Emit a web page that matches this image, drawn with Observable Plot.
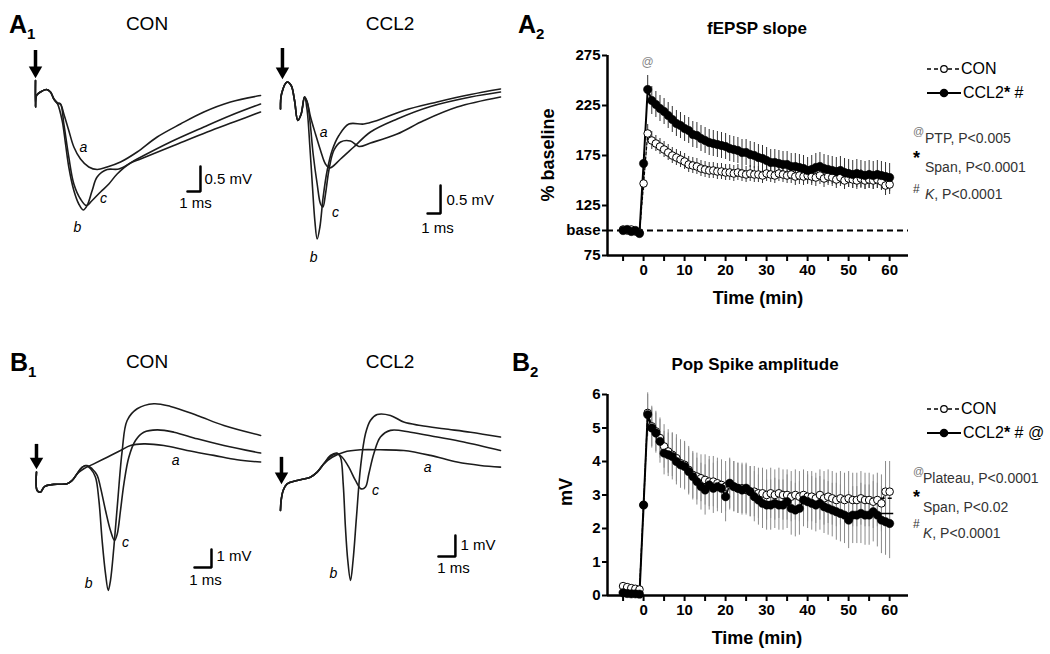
<!DOCTYPE html>
<html><head><meta charset="utf-8">
<script src="https://cdn.jsdelivr.net/npm/d3@7"></script>
<script src="https://cdn.jsdelivr.net/npm/@observablehq/plot@0.6"></script>
<style>
body{margin:0;background:#fff;font-family:"Liberation Sans",Arial,Helvetica,sans-serif;color:#000;}
#fig{position:relative;width:1050px;height:654px;overflow:hidden;background:#fff;}
#fig sub{font-size:15px;vertical-align:-6px;}
</style></head><body><div id="fig"></div>
<script>
// ---------------- DATA ----------------
// A1 traces (time ms, voltage mV), CON
const a1ConStart = [[0,0.16],[0,-0.37],[0.08,-0.14],[0.38,-0.07],[0.85,-0.02],[1.15,-0.07],[1.41,-0.21],[1.67,-0.29],[1.92,-0.31]];
const a1ConA = [[2.18,-0.51],[2.56,-0.84],[2.95,-1.17],[3.46,-1.41],[4.10,-1.57],[4.74,-1.62],[5.51,-1.57],[6.54,-1.47],[7.82,-1.27],[9.36,-0.97],[11.15,-0.71],[12.95,-0.47],[15.0,-0.27],[17.31,-0.14]];
const a1ConB = [[2.05,-0.64],[2.31,-1.11],[2.56,-1.57],[2.95,-2.04],[3.33,-2.31],[3.67,-2.43],[3.97,-2.34],[4.36,-2.04],[4.74,-1.77],[5.51,-1.62],[6.41,-1.61],[7.82,-1.41],[10.38,-1.07],[12.95,-0.77],[15.0,-0.54],[17.31,-0.31]];
const a1ConC = [[2.18,-0.71],[2.56,-1.37],[2.95,-1.91],[3.46,-2.21],[3.92,-2.34],[4.36,-2.24],[5.0,-2.07],[5.64,-1.91],[6.28,-1.71],[7.31,-1.49],[8.08,-1.41],[10.64,-1.14],[13.21,-0.87],[15.26,-0.67],[17.31,-0.47]];
// A1 traces, CCL2
const a1CclStart = [[0,-0.53],[0.08,-0.23],[0.51,0.01],[0.82,-0.06],[1.08,-0.36],[1.33,-0.76],[1.59,-0.63],[1.85,-0.29]];
const a1CclA = [[2.05,-0.39],[2.31,-0.69],[2.69,-1.03],[3.08,-1.36],[3.46,-1.63],[3.79,-1.71],[4.62,-1.53],[5.64,-1.29],[6.92,-0.99],[8.97,-0.73],[11.54,-0.48],[14.62,-0.29],[16.92,-0.19]];
const a1CclB = [[2.05,-0.56],[2.26,-1.29],[2.46,-2.09],[2.64,-2.76],[2.82,-3.13],[3.03,-2.89],[3.28,-2.29],[3.59,-1.76],[3.97,-1.36],[4.49,-1.06],[5.26,-0.83],[6.41,-0.83],[7.44,-0.76],[9.49,-0.56],[12.05,-0.39],[14.62,-0.24],[16.92,-0.13]];
const a1CclC = [[2.05,-0.39],[2.26,-0.76],[2.51,-1.43],[2.82,-2.03],[3.08,-2.43],[3.26,-2.49],[3.46,-2.23],[3.72,-1.76],[4.10,-1.36],[4.62,-1.19],[5.38,-1.17],[6.03,-1.28],[6.92,-1.21],[8.97,-1.03],[11.03,-0.76],[13.59,-0.49],[16.92,-0.29]];
// B1 traces, CON
const b1ConStart = [[0,0.74],[0.04,-0.28],[0.24,-0.37],[0.47,-0.06],[1.02,0.06],[1.80,0.09],[2.10,0.28],[2.39,0.65]];
const b1ConA = [[2.78,0.93],[3.37,1.20],[4.16,1.57],[4.94,1.94],[5.53,2.22],[6.31,2.31],[7.49,2.22],[8.86,1.94],[10.43,1.67],[11.8,1.43],[13.18,1.30]];
const b1ConB = [[2.59,0.93],[2.88,1.11],[3.18,0.93],[3.47,0.46],[3.67,-0.83],[3.86,-3.06],[4.06,-4.91],[4.22,-5.83],[4.35,-5.28],[4.55,-3.43],[4.78,-0.83],[5.04,1.94],[5.33,3.61],[5.92,4.26],[6.9,4.54],[7.88,4.39],[9.45,3.89],[11.02,3.33],[13.18,2.78]];
const b1ConC = [[2.69,1.02],[2.98,1.11],[3.27,0.93],[3.57,0.56],[3.76,-0.09],[4.06,-1.39],[4.35,-2.5],[4.59,-3.06],[4.75,-2.69],[4.94,-1.39],[5.14,0.09],[5.43,1.57],[5.82,2.5],[6.31,2.96],[7.1,3.09],[8.08,2.96],[9.45,2.59],[11.02,2.22],[13.18,1.80]];
// B1 traces, CCL2
const b1CclStart = [[0,-1.39],[0.04,-0.83],[0.16,-0.28],[0.39,0.09],[0.98,0.28],[1.76,0.46],[2.16,0.74],[2.55,1.20]];
const b1CclA = [[3.04,1.57],[3.73,1.85],[4.71,1.98],[5.88,1.98],[7.25,1.94],[8.82,1.67],[10.39,1.30],[11.76,1.11],[12.94,1.02]];
const b1CclB = [[2.94,1.67],[3.33,1.80],[3.53,1.57],[3.69,0.09],[3.82,-2.31],[3.96,-4.17],[4.12,-5.28],[4.27,-4.17],[4.47,-1.76],[4.71,1.02],[5.0,2.87],[5.29,3.61],[5.69,3.94],[6.47,3.89],[7.25,3.52],[8.24,3.33],[9.61,3.15],[11.18,2.96],[12.94,2.69]];
const b1CclC = [[2.94,1.61],[3.33,1.76],[3.63,1.57],[4.02,1.02],[4.41,0.28],[4.75,-0.19],[5.0,-0.09],[5.2,0.65],[5.49,1.76],[5.88,2.69],[6.47,3.06],[7.65,2.96],[9.22,2.69],[10.78,2.41],[12.94,1.94]];

// Time course (min)
const minutes = d3.range(-5, 61);
const slopeCON = [101,100,101,99,98,147,
 197,190,187,184,181,178,175,173,171,169,
 166,165,164,162,161,160,160,159,159,158,
 158,157,158,157,156,157,156,156,155,157,
 156,155,157,156,155,156,154,155,154,155,
 154,153,155,152,154,153,151,153,150,152,
 151,150,152,150,151,150,151,149,145,146];
const slopeCCL2 = [100,101,99,100,97,167,
 241,230,226,222,219,215,211,207,205,202,
 200,196,195,192,190,188,187,186,185,184,
 182,181,180,178,178,176,175,173,172,170,
 168,168,167,166,166,164,164,163,162,160,
 161,163,164,162,161,160,159,160,158,157,
 156,157,156,155,156,155,156,155,154,153];
const slopeCONErr = [3,3,3,3,3,7,
 9,9,8,8,8,8,8,8,8,8,
 8,8,8,8,8,8,8,8,8,8,
 8,8,8,8,8,8,8,8,8,8,
 8,8,8,8,8,9,9,9,9,9,
 9,9,9,9,9,9,9,9,9,9,
 9,9,9,9,9,9,9,9,10,10];
const slopeCCL2Err = [3,3,3,3,3,9,
 14,14,13,13,13,13,13,13,13,13,
 13,13,13,13,13,13,13,13,13,13,
 13,13,13,13,13,13,13,13,13,13,
 13,13,13,13,13,13,13,13,13,13,
 14,14,14,14,14,14,14,14,14,14,
 14,14,14,14,14,14,14,14,14,14];
const popCON = [0.28,0.25,0.22,0.2,0.18,2.7,
 5.45,5.05,4.9,4.7,4.45,4.3,4.2,4.1,3.95,3.9,
 3.75,3.6,3.55,3.5,3.45,3.4,3.4,3.35,3.3,3.25,
 3.3,3.25,3.2,3.2,3.15,3.1,3.1,3.05,3.05,3.0,
 3.05,3.0,3.05,3.0,3.0,2.95,3.0,2.95,3.0,2.95,
 2.95,2.9,3.0,2.9,2.95,2.9,2.85,2.9,2.85,2.9,
 2.85,2.85,2.9,2.85,2.85,2.8,2.85,2.75,3.1,3.1];
const popCCL2 = [0.08,0.06,0.05,0.05,0.04,2.7,
 5.4,5.0,4.85,4.6,4.25,4.2,4.15,4.0,3.9,3.85,
 3.7,3.55,3.4,3.25,3.15,3.3,3.2,3.25,3.2,2.95,
 3.35,3.25,3.2,3.15,3.2,3.1,2.95,2.85,2.75,2.7,
 2.7,2.75,2.7,2.7,2.8,2.6,2.55,2.6,2.85,2.8,
 2.75,2.7,2.75,2.65,2.6,2.55,2.5,2.45,2.4,2.25,
 2.4,2.4,2.45,2.4,2.4,2.5,2.4,2.25,2.2,2.15];
const popCONErr = [0.06,0.06,0.06,0.06,0.06,0.4,
 0.55,0.6,0.6,0.6,0.65,0.65,0.65,0.7,0.7,0.7,
 0.7,0.7,0.7,0.7,0.75,0.75,0.75,0.75,0.75,0.75,
 0.75,0.75,0.75,0.75,0.75,0.75,0.75,0.75,0.75,0.75,
 0.75,0.75,0.75,0.75,0.75,0.75,0.75,0.75,0.75,0.75,
 0.75,0.75,0.75,0.8,0.8,0.8,0.8,0.8,0.8,0.8,
 0.8,0.8,0.8,0.8,0.8,0.8,0.8,0.85,0.9,0.9];
const popCCL2Err = [0.03,0.03,0.03,0.03,0.03,0.4,
 0.65,0.6,0.6,0.65,0.65,0.65,0.7,0.7,0.7,0.7,
 0.7,0.7,0.7,0.7,0.75,0.75,0.75,0.75,0.75,0.75,
 0.75,0.75,0.75,0.75,0.75,0.75,0.75,0.75,0.75,0.75,
 0.75,0.75,0.75,0.75,0.8,0.8,0.8,0.8,0.8,0.8,
 0.8,0.8,0.8,0.8,0.8,0.8,0.85,0.85,0.85,0.85,
 0.85,0.85,0.9,0.9,0.9,0.9,0.95,1.0,1.0,1.05];
const popPlateau = [{group:"CON", v:2.9, from:46, to:61}, {group:"CCL2", v:2.45, from:48, to:61}];
const ptpMark = [{t:1, v:268, s:"@"}];

const timeMajorTicks = [0,10,20,30,40,50,60];
const timeMinorTicks = [-5,5,15,25,35,45,55];
const slopeTicks = [75,100,125,175,225,275];
const slopeBase = 100;
const popTicks = [0,1,2,3,4,5,6];

// ---------------- HELPERS ----------------
const FONT = '"Liberation Sans", Arial, Helvetica, sans-serif';
const fig = document.getElementById("fig");
function put(html, x, y, css, tf) {
  const d = document.createElement("div");
  d.innerHTML = html;
  d.style.cssText = `position:absolute;left:${x}px;top:${y}px;white-space:nowrap;line-height:1;transform:${tf};${css||""}`;
  fig.appendChild(d);
}
const ctr = (h, x, y, css) => put(h, x, y, css, "translate(-50%,-50%)");
const lft = (h, x, y, css) => put(h, x, y, css, "translate(0,-50%)");
const rot = (h, x, y, css) => put(h, x, y, css, "translate(-50%,-50%) rotate(-90deg)");
function placeSvg(svg, left, top) {
  svg.style.position = "absolute"; svg.style.left = left + "px"; svg.style.top = top + "px";
  fig.appendChild(svg);
}

function tracePanel(p) {
  const X = d => d[0], Y = d => d[1];
  const marks = p.traces.map(tr => Plot.line(tr, {x: X, y: Y, curve: "catmull-rom", stroke: "#1c1c1c", strokeWidth: 1.6, strokeLinejoin: "round"}));
  marks.push(Plot.ruleX([p.arrow], {x: "t", y1: "top", y2: "tip", stroke: "black", strokeWidth: 3.5, insetBottom: 9}));
  marks.push(Plot.dot([p.arrow], {x: "t", y: "tip", dy: -7, symbol: "triangle", rotate: 180, r: 5, fill: "black"}));
  const b = p.bar;
  marks.push(Plot.line([[b.t - b.dt, b.v], [b.t, b.v], [b.t, b.v + b.dv]], {x: X, y: Y, stroke: "black", strokeWidth: 2.5, strokeLinejoin: "miter"}));
  marks.push(Plot.text(p.letters, {x: "t", y: "v", text: "s", fontStyle: "italic", fontSize: 14}));
  marks.push(Plot.text([p.barV], {x: "t", y: "v", text: "s", fontSize: 15, textAnchor: "start"}));
  marks.push(Plot.text([p.barT], {x: "t", y: "v", text: "s", fontSize: 15, textAnchor: "middle"}));
  const svg = Plot.plot({
    width: p.width, height: p.height, margin: 0, axis: null,
    x: {domain: p.xd}, y: {domain: p.yd},
    style: {fontFamily: FONT, overflow: "visible", background: "transparent", color: "black"},
    marks
  });
  placeSvg(svg, p.left, p.top);
}

function timeChart(c) {
  const rows = c.time.map((t, i) => ({t, con: c.con[i], ccl: c.ccl[i], ce: c.conErr[i], ke: c.cclErr[i]}));
  const [x0] = c.xd, [y0] = c.yd;
  const marks = [];
  if (c.base != null) marks.push(Plot.ruleY([c.base], {stroke: "black", strokeWidth: 2, strokeDasharray: "6,4"}));
  marks.push(
    Plot.ruleX(rows, {x: "t", y1: d => d.con - d.ce, y2: d => d.con + d.ce, stroke: c.errColor, strokeWidth: 1}),
    Plot.ruleX(rows, {x: "t", y1: d => d.ccl - d.ke, y2: d => d.ccl + d.ke, stroke: c.errColor, strokeWidth: 1})
  );
  if (c.plateau) {
    marks.push(Plot.ruleY(c.plateau.filter(d => d.group === "CON"), {y: "v", x1: "from", x2: "to", stroke: "black", strokeWidth: 1.5, strokeDasharray: "4,3"}));
    marks.push(Plot.ruleY(c.plateau.filter(d => d.group === "CCL2"), {y: "v", x1: "from", x2: "to", stroke: "black", strokeWidth: 1.5}));
  }
  marks.push(
    Plot.line(rows, {x: "t", y: "con", stroke: "black", strokeWidth: 1.3, strokeDasharray: "3,2"}),
    Plot.line(rows, {x: "t", y: "ccl", stroke: "black", strokeWidth: 2}),
    Plot.dot(rows, {x: "t", y: "con", r: 3.8, fill: "white", stroke: "black", strokeWidth: 1}),
    Plot.dot(rows, {x: "t", y: "ccl", r: 4.2, fill: "black", stroke: "black", strokeWidth: 0.5}),
    Plot.ruleX([x0], {stroke: "black", strokeWidth: 2.5}),
    Plot.ruleY([y0], {stroke: "black", strokeWidth: 2.5}),
    Plot.axisY({ticks: c.yTicks, tickFormat: c.yFormat, tickSize: 5, tickPadding: 2, fontSize: 15, fontWeight: "bold", strokeWidth: 2, label: null}),
    Plot.axisX({ticks: timeMajorTicks, tickFormat: d => d, tickSize: 6, tickPadding: 3, fontSize: 15, fontWeight: "bold", strokeWidth: 2, label: null}),
    Plot.axisX({ticks: timeMinorTicks, tickFormat: () => "", tickSize: 6, strokeWidth: 2, label: null})
  );
  if (c.extra) marks.push(...c.extra);
  const svg = Plot.plot({
    width: c.width, height: c.height,
    marginLeft: c.ml, marginRight: c.mr, marginTop: c.mt, marginBottom: c.mb,
    x: {domain: c.xd}, y: {domain: c.yd},
    style: {fontFamily: FONT, overflow: "visible", background: "transparent", color: "black"},
    marks
  });
  placeSvg(svg, c.left, c.top);
}

// ---------------- TRACE PANELS ----------------
tracePanel({
  left: 20, top: 40, width: 250, height: 200, xd: [-1.154, 18.077], yd: [-3.04, 0.96],
  traces: [[...a1ConStart, ...a1ConA], [...a1ConStart.slice(0, 8), ...a1ConB], [...a1ConStart, ...a1ConC]],
  arrow: {t: 0, top: 0.76, tip: 0.22},
  bar: {t: 12.69, v: -2.06, dt: 1, dv: 0.5},
  letters: [{t: 3.69, v: -1.18, s: "a"}, {t: 5.23, v: -2.2, s: "c"}, {t: 3.23, v: -2.78, s: "b"}],
  barV: {t: 13.0, v: -1.82, s: "0.5 mV"}, barT: {t: 12.3, v: -2.3, s: "1 ms"}
});
tracePanel({
  left: 265, top: 40, width: 245, height: 230, xd: [-1.154, 17.69], yd: [-3.76, 0.84],
  traces: [[...a1CclStart, ...a1CclA], [...a1CclStart, ...a1CclB], [...a1CclStart, ...a1CclC]],
  arrow: {t: 0.15, top: 0.68, tip: 0.08},
  bar: {t: 12.31, v: -2.62, dt: 1, dv: 0.56},
  letters: [{t: 3.31, v: -1.0, s: "a"}, {t: 4.23, v: -2.6, s: "c"}, {t: 2.54, v: -3.5, s: "b"}],
  barV: {t: 12.77, v: -2.36, s: "0.5 mV"}, barT: {t: 12.08, v: -2.92, s: "1 ms"}
});
tracePanel({
  left: 20, top: 380, width: 250, height: 220, xd: [-0.94, 13.76], yd: [-6.39, 5.83],
  traces: [[...b1ConStart, ...b1ConA], [...b1ConStart, ...b1ConB], [...b1ConStart, ...b1ConC]],
  arrow: {t: 0, top: 2.28, tip: 0.94},
  bar: {t: 10.29, v: -4.56, dt: 1, dv: 1},
  letters: [{t: 8.18, v: 1.39, s: "a"}, {t: 5.24, v: -3.17, s: "c"}, {t: 3.06, v: -5.44, s: "b"}],
  barV: {t: 10.59, v: -3.94, s: "1 mV"}, barT: {t: 9.94, v: -5.28, s: "1 ms"}
});
tracePanel({
  left: 265, top: 380, width: 245, height: 220, xd: [-0.88, 13.53], yd: [-6.39, 5.83],
  traces: [[...b1CclStart, ...b1CclA], [...b1CclStart, ...b1CclB], [...b1CclStart, ...b1CclC]],
  arrow: {t: 0.06, top: 1.56, tip: 0.11},
  bar: {t: 10.29, v: -3.94, dt: 1, dv: 1.16},
  letters: [{t: 8.65, v: 1.0, s: "a"}, {t: 5.59, v: -0.28, s: "c"}, {t: 3.12, v: -4.89, s: "b"}],
  barV: {t: 10.59, v: -3.33, s: "1 mV"}, barT: {t: 10.18, v: -4.61, s: "1 ms"}
});

// ---------------- TIME COURSE PANELS ----------------
timeChart({
  left: 540, top: 40, width: 380, height: 280, ml: 67, mr: 12, mt: 15, mb: 65,
  xd: [-8.8, 64.6], yd: [75, 275], time: minutes,
  con: slopeCON, ccl: slopeCCL2, conErr: slopeCONErr, cclErr: slopeCCL2Err, errColor: "#333",
  yTicks: slopeTicks, yFormat: d => d === slopeBase ? "base" : d, base: slopeBase,
  extra: [Plot.text(ptpMark, {x: "t", y: "v", text: "s", fill: "#888", fontSize: 12})]
});
timeChart({
  left: 540, top: 380, width: 380, height: 274, ml: 67, mr: 12, mt: 14, mb: 59,
  xd: [-8.8, 64.6], yd: [0, 6], time: minutes,
  con: popCON, ccl: popCCL2, conErr: popCONErr, cclErr: popCCL2Err, errColor: "#8a8a8a",
  yTicks: popTicks, yFormat: d => d, plateau: popPlateau
});

// ---------------- TEXT ----------------
lft('A<sub>1</sub>', 9, 26, 'font-size:25px;font-weight:bold;');
lft('A<sub>2</sub>', 518, 26, 'font-size:25px;font-weight:bold;');
lft('B<sub>1</sub>', 10, 364, 'font-size:25px;font-weight:bold;');
lft('B<sub>2</sub>', 512, 364, 'font-size:25px;font-weight:bold;');
ctr('CON', 147, 23, 'font-size:19px;');
ctr('CCL2', 390, 23, 'font-size:19px;');
ctr('CON', 147, 361, 'font-size:19px;');
ctr('CCL2', 390, 361, 'font-size:19px;');
ctr('fEPSP slope', 757, 28, 'font-size:17px;font-weight:bold;');
ctr('Pop Spike amplitude', 755, 364, 'font-size:17px;font-weight:bold;');
rot('% baseline', 548, 155, 'font-size:18px;font-weight:bold;');
rot('mV', 566, 492, 'font-size:18px;font-weight:bold;');
ctr('Time (min)', 758, 298, 'font-size:18px;font-weight:bold;');
ctr('Time (min)', 757, 638, 'font-size:18px;font-weight:bold;');

const symCON = '<svg width="34" height="12" style="position:absolute;left:-35px;top:-6px"><line x1="1" y1="6" x2="33" y2="6" stroke="#000" stroke-width="1.5" stroke-dasharray="4,3"/><circle cx="18" cy="6" r="3.3" fill="#fff" stroke="#000" stroke-width="1.2"/></svg>';
const symCCL = '<svg width="36" height="12" style="position:absolute;left:-37px;top:-6px"><line x1="1" y1="6" x2="35" y2="6" stroke="#000" stroke-width="2"/><circle cx="18" cy="6" r="4.3" fill="#000"/></svg>';
function legendRow(sym, html, x, y) {
  const d = document.createElement("div");
  d.style.cssText = `position:absolute;left:${x}px;top:${y}px;`;
  d.innerHTML = sym;
  fig.appendChild(d);
  lft(html, x, y, 'font-size:16px;');
}
legendRow(symCON, 'CON', 961, 69);
legendRow(symCCL, 'CCL2<b>*</b> #', 963, 93);
legendRow(symCON, 'CON', 961, 409);
legendRow(symCCL, 'CCL2<b>*</b> # @', 963, 433);

const statCss = 'font-size:14px;color:#333;';
lft('@', 913, 131, 'font-size:11px;color:#777;');
lft('PTP, P&lt;0.005', 925, 138, statCss);
lft('<b>*</b>', 913, 158, 'font-size:18px;');
lft('Span, P&lt;0.0001', 925, 167, statCss);
lft('#', 913, 189, 'font-size:12px;color:#333;');
lft('<i>K</i>, P&lt;0.0001', 925, 194, statCss);

lft('@', 913, 471, 'font-size:11px;color:#777;');
lft('Plateau, P&lt;0.0001', 923, 478, statCss);
lft('<b>*</b>', 913, 497, 'font-size:18px;');
lft('Span, P&lt;0.02', 923, 507, statCss);
lft('#', 913, 524, 'font-size:12px;color:#333;');
lft('<i>K</i>, P&lt;0.0001', 923, 533, statCss);
</script></body></html>
